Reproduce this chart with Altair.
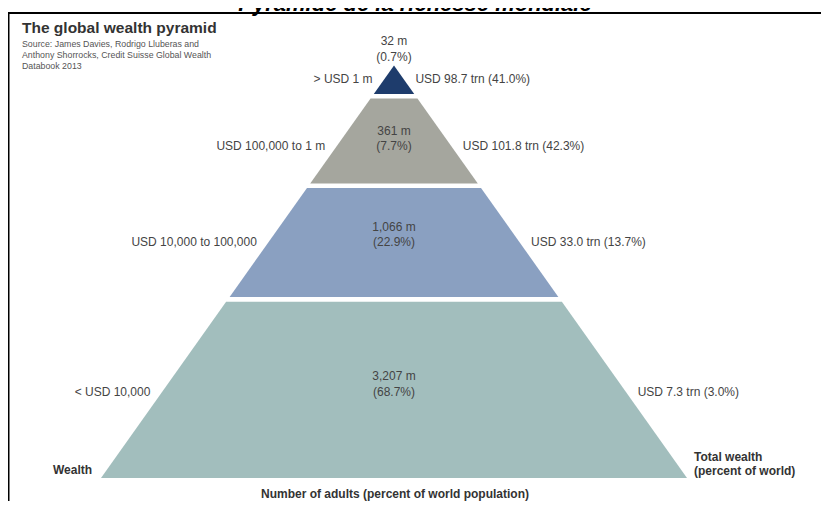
import altair as alt
import pandas as pd

# ---- data ----
tiers = ["> USD 1 m", "USD 100,000 to 1 m", "USD 10,000 to 100,000", "< USD 10,000"]
adults_millions = [32, 361, 1066, 3207]
adults_share = [0.7, 7.7, 22.9, 68.7]
wealth_trn = [98.7, 101.8, 33.0, 7.3]
wealth_share = [41.0, 42.3, 13.7, 3.0]
colors = ["#1e3c6c", "#a5a69e", "#8aa0c1", "#a2bebd"]

# ---- layout (pyramid geometry, in fractions of pyramid height / base half-width) ----
tier_top = [1.0, 0.92, 0.703, 0.427]
tier_bottom = [0.931, 0.714, 0.439, 0.0]
count_line1 = [1.059, 0.841, 0.6085, 0.247]
count_line2 = [1.021, 0.805, 0.572, 0.2085]
side_y = [0.967, 0.805, 0.572, 0.2085]
side_gap = 0.04

W, H = 813, 493
x_dom = [-386 / 293, (W - 386) / 293]
y_dom = [-(23 / 412.5), 1 + 57.5 / 412.5]
xs = alt.Scale(domain=x_dom, range=[0, W], nice=False, zero=False)
ys = alt.Scale(domain=y_dom, range=[H, 0], nice=False, zero=False)

rows = []
for i, t in enumerate(tiers):
    for f in (tier_top[i], tier_bottom[i]):
        rows.append({"tier": t, "f": f, "xl": -(1 - f), "xr": (1 - f)})
shapes = pd.DataFrame(rows)

area = alt.Chart(shapes).mark_area(orient="horizontal").encode(
    y=alt.Y("f:Q", scale=ys, axis=None),
    x=alt.X("xl:Q", scale=xs, axis=None),
    x2="xr:Q",
    color=alt.Color("tier:N", scale=alt.Scale(domain=tiers, range=colors), legend=None),
)

center_rows, left_rows, right_rows = [], [], []
for i, t in enumerate(tiers):
    center_rows.append({"x": 0, "y": count_line1[i], "text": f"{adults_millions[i]:,} m"})
    center_rows.append({"x": 0, "y": count_line2[i], "text": f"({adults_share[i]}%)"})
    half = 1 - side_y[i]
    left_rows.append({"x": -half - side_gap, "y": side_y[i], "text": t})
    right_rows.append({"x": half + side_gap, "y": side_y[i],
                       "text": f"USD {wealth_trn[i]:.1f} trn ({wealth_share[i]:.1f}%)"})

FONT = "Liberation Sans"
TXT = "#444444"


def label_layer(df, align):
    return alt.Chart(pd.DataFrame(df)).mark_text(
        align=align, baseline="middle", font=FONT, fontSize=12, color=TXT
    ).encode(x=alt.X("x:Q", scale=xs, axis=None), y=alt.Y("y:Q", scale=ys, axis=None), text="text:N")


centers = label_layer(center_rows, "center")
lefts = label_layer(left_rows, "right")
rights = label_layer(right_rows, "left")

# ---- header / annotations ----
def note(txt, x, y, size, weight="normal", align="left", color="#333333", style="normal", baseline="middle"):
    return alt.Chart(pd.DataFrame({"t": [txt]})).mark_text(
        align=align, baseline=baseline, font=FONT, fontSize=size, fontWeight=weight,
        fontStyle=style, color=color
    ).encode(x=alt.value(x), y=alt.value(y), text="t:N")


main_title = note("Pyramide de la richesse mondiale", 407, 3, 22, "bold", "center", "#000000", "italic", "alphabetic")
subtitle = note("The global wealth pyramid", 14, 25, 15.5, "bold", "left", "#333333", baseline="alphabetic")
src1 = note("Source: James Davies, Rodrigo Lluberas and", 14, 36, 8.8, color="#555555")
src2 = note("Anthony Shorrocks, Credit Suisse Global Wealth", 14, 47, 8.8, color="#555555")
src3 = note("Databook 2013", 14, 58, 8.8, color="#555555")
wealth_lbl = note("Wealth", 45, 462, 12, "bold")
tw1 = note("Total wealth", 686, 449, 12, "bold")
tw2 = note("(percent of world)", 686, 463, 12, "bold")
adults_lbl = note("Number of adults (percent of world population)", 387, 486, 12, "bold", "center")

frame_top = alt.Chart(pd.DataFrame({"a": [0]})).mark_rule(color="#000000", strokeWidth=2).encode(
    x=alt.value(-1), x2=alt.value(W), y=alt.value(5))
frame_left = alt.Chart(pd.DataFrame({"a": [0]})).mark_rule(color="#000000", strokeWidth=2).encode(
    x=alt.value(0.5), y=alt.value(4), y2=alt.value(H))

chart = alt.layer(
    area, centers, lefts, rights,
    main_title, subtitle, src1, src2, src3,
    wealth_lbl, tw1, tw2, adults_lbl,
    frame_top, frame_left,
).properties(
    width=W, height=H, autosize=alt.AutoSizeParams(type="none"), padding=0, background="white"
).configure_view(stroke=None)

chart.save("out.html", embed_options={"renderer": "svg", "actions": False})
